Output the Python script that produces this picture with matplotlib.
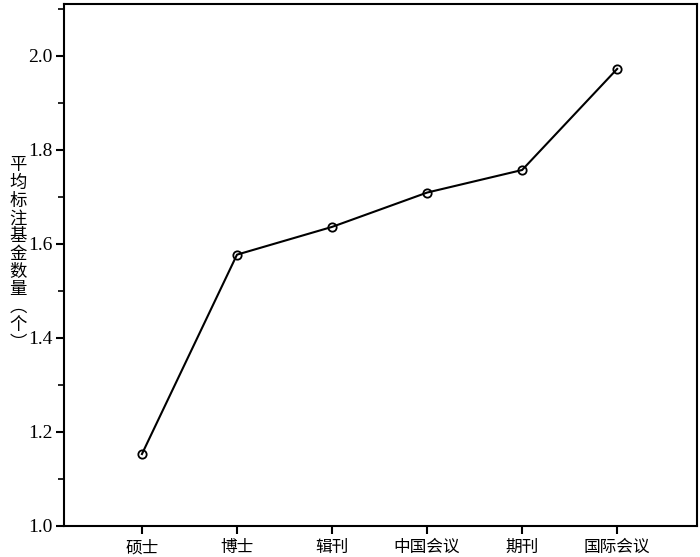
import matplotlib
matplotlib.use("Agg")
import matplotlib.pyplot as plt
from matplotlib.ticker import MultipleLocator

plt.rcParams['font.family'] = ['Liberation Serif', 'Noto Sans CJK SC']

categories = ["硕士", "博士", "辑刊", "中国会议", "期刊", "国际会议"]
values = [1.153, 1.577, 1.636, 1.709, 1.757, 1.972]
ylabel_chars = ["平", "均", "标", "注", "基", "金", "数", "量", "︵", "个", "︶"]

fig = plt.figure(figsize=(7, 5.57), dpi=100)
ax = fig.add_axes([64/700, 1 - 526/557, 633/700, 522/557])

x = list(range(len(categories)))
ax.plot(x, values, color='black', lw=1.5, marker='o', ms=6,
        mfc='none', mec='black', mew=1.3)

ax.set_xlim(-0.82, 5.84)
ax.set_ylim(1.0, 2.11)
ax.yaxis.set_major_locator(MultipleLocator(0.2))
ax.yaxis.set_minor_locator(MultipleLocator(0.1))
ax.set_yticklabels([f"{v:.1f}" for v in ax.get_yticks()])
ax.set_xticks(x)
ax.set_xticklabels(categories, family=['Noto Sans CJK SC'], fontsize=12)
ax.tick_params(axis='both', direction='out', width=1.5, length=6)
ax.tick_params(axis='y', labelsize=14, pad=2)
ax.tick_params(axis='y', which='minor', direction='out', width=1.2, length=4)
for s in ax.spines.values():
    s.set_linewidth(1.5)

fig.text(18/700, 1 - 254/557, "\n".join(ylabel_chars), family=['Noto Sans CJK SC'],
         fontsize=12.5, ha='center', va='center', linespacing=0.98)

fig.savefig("out.png", dpi=100)
